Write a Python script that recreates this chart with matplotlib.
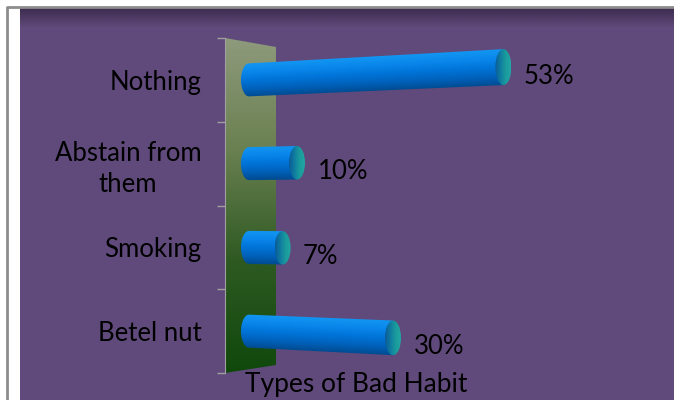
import numpy as np
import matplotlib.pyplot as plt
from matplotlib.patches import Polygon, Ellipse, PathPatch
from matplotlib.path import Path
from matplotlib.colors import LinearSegmentedColormap

plt.rcParams['font.family'] = ['Lato', 'DejaVu Sans']

categories = ['Nothing', 'Abstain from\nthem', 'Smoking', 'Betel nut']
values = [53, 10, 7, 30]
value_labels = ['53%', '10%', '7%', '30%']
axis_title = 'Types of Bad Habit'

W, H = 674, 400
fig = plt.figure(figsize=(W / 100, H / 100), dpi=100)
fig.patch.set_facecolor('white')

# background layer in pixel coordinates
bg = fig.add_axes([0, 0, 1, 1])
bg.set_xlim(0, W)
bg.set_ylim(H, 0)
bg.axis('off')
bg.add_patch(plt.Rectangle((20, 8), W - 20, H - 8, color='#604A7B', lw=0, zorder=1))
shade = np.zeros((20, 2, 4))
shade[..., :3] = np.array([0.15, 0.1, 0.2])
shade[..., 3] = np.linspace(0.6, 0, 20)[:, None]
bg.imshow(shade, extent=(20, W, 8 + 20, 8), aspect='auto', interpolation='bilinear', zorder=2)
bg.plot([7, 7, W], [H, 7, 7], color='#8C8C8C', lw=2, solid_capstyle='butt', zorder=3)

# side wall (gradient)
wall_cmap = LinearSegmentedColormap.from_list('wall', ['#8E9A7C', '#6A8050', '#2E5A22', '#10480C'])
wall = Polygon([(225, 38), (276, 47), (276, 365), (225, 373)], closed=True, fc='none', ec='none')
bg.add_patch(wall)
grad = np.linspace(0, 1, 256)[:, None] * np.ones((1, 2))
im = bg.imshow(grad, cmap=wall_cmap, extent=(225, 276, 373, 38), aspect='auto',
               interpolation='bilinear', zorder=2)
im.set_clip_path(wall)
bg.set_xlim(0, W)
bg.set_ylim(H, 0)

# data axes: 0% at x=249px, 4.8 px per percent
sx = 4.8
x0_px, top_px, bot_px = 225, 38, 373
xmin = (x0_px - 249) / sx
xmax = (W - 249) / sx
ax = fig.add_axes([x0_px / W, (H - bot_px) / H, (W - x0_px) / W, (bot_px - top_px) / H])
ax.patch.set_visible(False)
n = len(categories)
sy = (bot_px - top_px) / n

body_cmap = LinearSegmentedColormap.from_list(
    'body', ['#1296F2', '#0A86EA', '#0074D8', '#0062BC', '#004C92'])
cap_cmap = LinearSegmentedColormap.from_list('cap', ['#0A5C98', '#0F7CA0', '#1A9A9C', '#22A6A4'])

h0 = 16.5 / sy
cap_w = 16 / sx
for i, v in enumerate(values):
    yc0_px = top_px + (i + 0.5) * sy
    slope = (yc0_px - 210) * 0.000386 * sx / sy
    grow = 0.00035 * sx

    def yc(x):
        return i + slope * x

    def hh(x):
        return h0 * (1 + grow * x)

    # body outline: left half ellipse + straight sides
    ang = np.linspace(np.pi / 2, 3 * np.pi / 2, 40)
    left = np.column_stack([cap_w / 2 * np.cos(ang), yc(0) - h0 * np.sin(ang)])
    verts = np.vstack([left, [[v, yc(v) + hh(v)], [v, yc(v) - hh(v)]], left[:1]])
    body = PathPatch(Path(verts, closed=True), fc='none', ec='none')
    ax.add_patch(body)
    ex = (-cap_w, v + cap_w)
    ey = (i - 0.5, i + 0.5)
    X, Y = np.meshgrid(np.linspace(*ex, 200), np.linspace(*ey, 120))
    t = np.clip((Y - yc(X)) / hh(X), -1, 1)
    img = ax.imshow(t, cmap=body_cmap, vmin=-1, vmax=1, origin='lower',
                    extent=(ex[0], ex[1], ey[0], ey[1]), aspect='auto', interpolation='bilinear')
    img.set_clip_path(body)

    # end cap
    cap = Ellipse((v, yc(v)), cap_w, 2 * hh(v), fc='none', ec='none')
    ax.add_patch(cap)
    cx = np.linspace(v - cap_w / 2, v + cap_w / 2, 40)
    cimg = ax.imshow(np.tile(np.linspace(0, 1, 40), (10, 1)), cmap=cap_cmap, origin='lower',
                     extent=(cx[0], cx[-1], yc(v) - hh(v), yc(v) + hh(v)), aspect='auto',
                     interpolation='bilinear')
    cimg.set_clip_path(cap)

    ax.text(v + cap_w / 2 + 2.6, yc(v) + 9 / sy, value_labels[i], fontsize=18.5,
            color='black', ha='left', va='center')

ax.set_xlim(xmin, xmax)
ax.set_ylim(n - 0.5, -0.5)
ax.set_xticks([])
ax.set_yticks(range(n))
ax.set_yticklabels(categories, fontsize=18.5, linespacing=1.3)
ax.set_yticks(np.arange(n + 1) - 0.5, minor=True)
ax.tick_params(axis='y', which='major', length=0, pad=17)
ax.tick_params(axis='y', which='minor', length=6, color='#A0A0A0', width=1)
for lbl in ax.get_yticklabels():
    lbl.set_horizontalalignment('right')
    lbl.set_multialignment('center')
for s in ['top', 'right', 'bottom']:
    ax.spines[s].set_visible(False)
ax.spines['left'].set_color('#A0A0A0')

fig.text(245 / W, 1 - 392 / H, axis_title, fontsize=19, ha='left', va='baseline')

fig.savefig('out.png', dpi=100)
